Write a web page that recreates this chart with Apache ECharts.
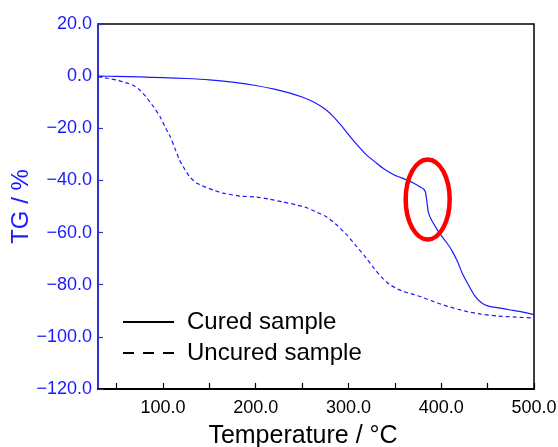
<!DOCTYPE html>
<html><head><meta charset="utf-8">
<script src="https://cdn.jsdelivr.net/npm/echarts@6/dist/echarts.min.js"></script>
<style>html,body{margin:0;padding:0;background:#fff}#c{width:558px;height:447px}</style>
</head><body><div id="c"></div>
<script>
const seriesNames = ['Cured sample', 'Uncured sample'];
const curedTemp = [30,50,75,100,125,150,175,200,220,237,250,263,275,284,293,302,311,320,330,338,350,362,370,378,381,383,384.5,386,388.6,395,400,406,412,418,423,430,436,443,450,462,475,488,500];
const curedTG   = [0,-0.1,-0.3,-0.6,-0.9,-1.4,-2.3,-3.6,-5.0,-6.5,-8.0,-10.0,-12.7,-15.6,-19.3,-23.3,-27,-30.4,-33.3,-35.5,-38.0,-39.7,-41.0,-42.6,-43.3,-44.5,-48,-52,-54.5,-58.5,-61.2,-63.9,-67.2,-71.5,-75.9,-80.5,-84.2,-86.8,-88.1,-88.9,-89.7,-90.5,-91.5];
const uncuredTemp = [30,40,50,60,68,75,82,90,97,102,108,113,118,124,129,136,144,155,165,183,201,215,230,243,255,266,277,288,299,308,317,326,335,344,353,362,371,380,392,400,407,418,428,443,460,480,500];
const uncuredTG   = [-0.2,-0.8,-1.5,-2.5,-3.5,-5.3,-8,-11.8,-15.6,-19.3,-23.3,-27.8,-32.3,-36,-38.7,-41,-42.3,-43.8,-44.9,-46,-46.4,-47.2,-48.3,-49.3,-50.5,-52.2,-54.1,-57.3,-61.2,-65,-68.8,-73,-76.9,-79.8,-81.7,-82.9,-83.8,-84.9,-86.5,-87.5,-88.3,-89.4,-90.3,-91.3,-92,-92.4,-92.8];
const xLabelValues = [100,200,300,400,500];
const xTickValues = [50,100,150,200,250,300,350,400,450,500];
const highlight = [385.4, -47.3];

const chart = echarts.init(document.getElementById('c'), null, {renderer:'canvas'});
const fontFam = '"Liberation Sans", Arial, sans-serif';
const blue = '#1a1aff';
const fmt = v => (v < 0 ? '\u2212' : '') + Math.abs(v).toFixed(1);
chart.setOption({
  animation:false,
  grid:{left:98,right:24,top:24,bottom:58,containLabel:false,outerBoundsMode:'none',show:true,borderColor:'#000',borderWidth:1.5,backgroundColor:'transparent'},
  legend:{
    orient:'vertical', left:117, top:305, itemWidth:51, itemHeight:14, itemGap:7,
    textStyle:{fontFamily:fontFam,fontSize:24,color:'#000',padding:[0,0,0,8]},
    data:[
      {name:seriesNames[0], itemStyle:{color:'transparent',opacity:0,borderWidth:0}, lineStyle:{color:'#000',width:2,type:'solid'}},
      {name:seriesNames[1], itemStyle:{color:'transparent',opacity:0,borderWidth:0}, lineStyle:{color:'#000',width:2,type:[11,9]}}
    ]
  },
  xAxis:{
    type:'value', min:30, max:500,
    name:'Temperature / \u00B0C', nameLocation:'middle', nameGap:35, nameMoveOverlap:false,
    nameTextStyle:{fontFamily:fontFam,fontSize:25,color:'#000',padding:[0,26,0,0]},
    axisLine:{show:true,onZero:false,lineStyle:{color:'#000',width:2}},
    axisTick:{show:true,inside:true,length:6,lineStyle:{color:'#000',width:1.2},customValues:xTickValues},
    axisLabel:{fontFamily:fontFam,fontSize:18,color:'#000',margin:10,formatter:fmt,customValues:xLabelValues},
    splitLine:{show:false}
  },
  yAxis:{
    type:'value', min:-120, max:20, interval:20,
    name:'TG / %', nameLocation:'middle', nameGap:65, nameMoveOverlap:false,
    nameTextStyle:{fontFamily:fontFam,fontSize:24,color:blue},
    axisLine:{show:true,onZero:false,lineStyle:{color:'#3333cc',width:2}},
    axisTick:{show:true,inside:true,length:5,lineStyle:{color:'#3333cc',width:1.2}},
    axisLabel:{fontFamily:fontFam,fontSize:18,color:blue,margin:6,formatter:fmt},
    splitLine:{show:false}
  },
  series:[
    {name:seriesNames[0], type:'line', symbol:'none', smooth:0.15,
     lineStyle:{color:blue,width:1.2,type:'solid'},
     data:curedTemp.map((t,i)=>[t,curedTG[i]])},
    {name:seriesNames[1], type:'line', symbol:'none', smooth:0.15,
     lineStyle:{color:blue,width:1.2,type:[4,3]},
     data:uncuredTemp.map((t,i)=>[t,uncuredTG[i]])}
  ]
});
const p = chart.convertToPixel({gridIndex:0}, highlight);
chart.setOption({graphic:[{type:'ellipse', shape:{cx:p[0],cy:p[1],rx:22,ry:40}, style:{fill:'none',stroke:'#ff0000',lineWidth:4.5}, z:100}]});
</script></body></html>
